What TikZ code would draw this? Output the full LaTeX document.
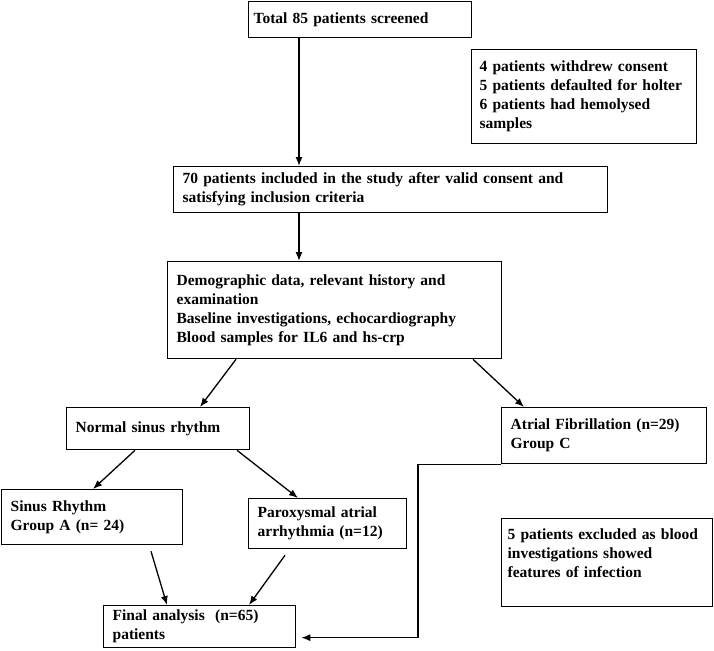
\documentclass[tikz,border=0pt]{standalone}
\usepackage{fontspec}
\setmainfont{Liberation Serif}
\usetikzlibrary{arrows.meta, positioning}

\tikzset{
  box/.style={draw, line width=1.3pt, align=left, anchor=north west,
    inner xsep=9pt, inner ysep=2pt,
    font=\fontsize{15.5}{19}\selectfont\bfseries},
  arr/.style={line width=1.3pt, -{Latex[length=9pt,width=7pt]}}
}

\begin{document}
\begin{tikzpicture}[x=1pt, y=-1pt]
\useasboundingbox (0,0) rectangle (714,650);
% boxes
\node[box, inner xsep=5pt, text width=213pt, minimum height=36pt] (total) at (248,1) {Total 85 patients screened};
\node[box, inner xsep=8pt, text width=209pt, minimum height=94pt] (excl) at (471,49) {4 patients withdrew consent\\5 patients defaulted for holter\\6 patients had hemolysed\\samples};
\node[box, text width=416pt, minimum height=46pt] (incl) at (173,166) {70 patients included in the study after valid consent and\\satisfying inclusion criteria};
\node[box, text width=316pt, minimum height=97pt] (demo) at (167,261) {Demographic data, relevant history and\\examination\\Baseline investigations, echocardiography\\Blood samples for IL6 and hs-crp};
\node[box, text width=165pt, minimum height=42pt] (nsr) at (66,407) {Normal sinus rhythm};
\node[box, text width=187pt, minimum height=56pt] (af) at (501,407) {Atrial Fibrillation (n=29)\\Group C};
\node[box, text width=163pt, minimum height=55pt] (sinus) at (1,489) {Sinus Rhythm\\Group A (n= 24)};
\node[box, text width=140pt, minimum height=50pt] (parox) at (248,498) {Paroxysmal atrial\\arrhythmia (n=12)};
\node[box, inner xsep=6pt, text width=199pt, minimum height=88pt] (infect) at (501,518) {5 patients excluded as blood\\investigations showed\\features of infection\\\mbox{}};
\node[box, text width=174pt, minimum height=42pt] (final) at (103,605) {Final analysis~ (n=65)\\patients};
% arrows
\draw[arr] ([xshift=51pt]total.south west) -- ([xshift=126pt]incl.north west);
\draw[arr] ([xshift=126pt]incl.south west) -- ([xshift=132pt]demo.north west);
\draw[arr] ([xshift=69pt]demo.south west) -- ([xshift=134pt]nsr.north west);
\draw[arr] ([xshift=306pt]demo.south west) -- ([xshift=23pt]af.north west);
\draw[arr] ([xshift=69pt]nsr.south west) -- ([xshift=92pt]sinus.north west);
\draw[arr] ([xshift=171pt]nsr.south west) -- ([xshift=50pt]parox.north west);
\draw[arr] ([xshift=150pt,yshift=-6pt]sinus.south west) -- ([xshift=64pt]final.north west);
\draw[arr] ([xshift=37pt,yshift=-6pt]parox.south west) -- ([xshift=146pt]final.north west);
\draw[arr] (af.south west) -- ++(-83,0) |- ([xshift=5pt,yshift=-11pt]final.east);
\end{tikzpicture}
\end{document}
